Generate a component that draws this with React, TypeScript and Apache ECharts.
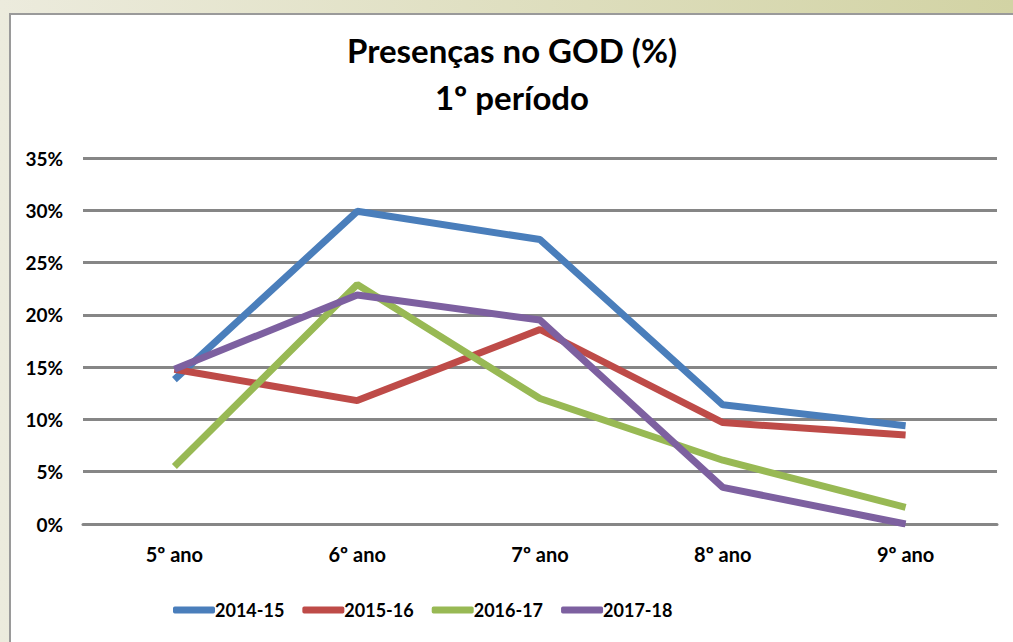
import React, { useEffect, useRef } from "react";
import * as echarts from "echarts";

const categories = ["5º ano", "6º ano", "7º ano", "8º ano", "9º ano"];
const seriesNames = ["2014-15", "2015-16", "2016-17", "2017-18"];
const s2014 = [13.8, 29.9, 27.2, 11.4, 9.4];
const s2015 = [14.8, 11.8, 18.6, 9.7, 8.5];
const s2016 = [5.5, 22.9, 12.0, 6.1, 1.6];
const s2017 = [14.8, 21.9, 19.5, 3.5, 0];
const colors = ["#4a7ebb", "#be4b48", "#98b954", "#7d60a0"];
const yTicks = { min: 0, max: 35, interval: 5 };

export default function App() {
  const ref = useRef<HTMLDivElement>(null);
  useEffect(() => {
    if (!ref.current) return;
    const chart = echarts.init(ref.current, undefined, { renderer: "svg" });
    const data = [s2014, s2015, s2016, s2017];
    const font = "Lato, 'Open Sans', sans-serif";
    chart.setOption({
      animation: false,
      title: {
        text: "Presenças no GOD (%)\n1º período",
        left: "center",
        top: 6,
        textStyle: { fontFamily: font, fontWeight: "bold", fontSize: 33, lineHeight: 47, color: "#000" },
      },
      legend: {
        top: 581,
        left: 157,
        itemWidth: 42,
        itemHeight: 7,
        itemGap: 18,
        icon: "roundRect",
        data: seriesNames,
        textStyle: { fontFamily: font, fontWeight: "bold", fontSize: 18, color: "#000", padding: [0, 0, 0, -5] },
      },
      grid: { left: 72, right: 16, top: 143, bottom: 118 },
      xAxis: {
        type: "category",
        data: categories,
        boundaryGap: true,
        axisLine: { show: true, lineStyle: { color: "#868686", width: 3 } },
        axisTick: { show: false },
        axisLabel: { fontFamily: font, fontWeight: "bold", fontSize: 20, color: "#000", margin: 20 },
      },
      yAxis: {
        type: "value",
        min: yTicks.min,
        max: yTicks.max,
        interval: yTicks.interval,
        axisLine: { show: false },
        axisTick: { show: false },
        splitLine: { lineStyle: { color: "#868686", width: 3 } },
        axisLabel: { formatter: "{value}%", fontFamily: font, fontWeight: "bold", fontSize: 19, color: "#000", margin: 20 },
      },
      series: seriesNames.map((n, i) => ({
        name: n,
        type: "line",
        data: data[i],
        symbol: "none",
        lineStyle: { color: colors[i], width: 7 },
        itemStyle: { color: colors[i] },
      })),
    });
    return () => chart.dispose();
  }, []);
  return (
    <div
      style={{
        position: "fixed",
        left: 0,
        top: 0,
        width: 1013,
        height: 642,
        background: "linear-gradient(to right, #ecebdd, #d2d3a4)",
        overflow: "hidden",
      }}
    >
      <div
        style={{
          position: "absolute",
          left: 9,
          top: 13,
          width: 1004,
          height: 629,
          background: "#fff",
          borderLeft: "2px solid #9a9a9a",
          borderTop: "2px solid #9a9a9a",
          boxSizing: "border-box",
        }}
      >
        <div ref={ref} style={{ width: 1002, height: 627 }} />
      </div>
    </div>
  );
}
